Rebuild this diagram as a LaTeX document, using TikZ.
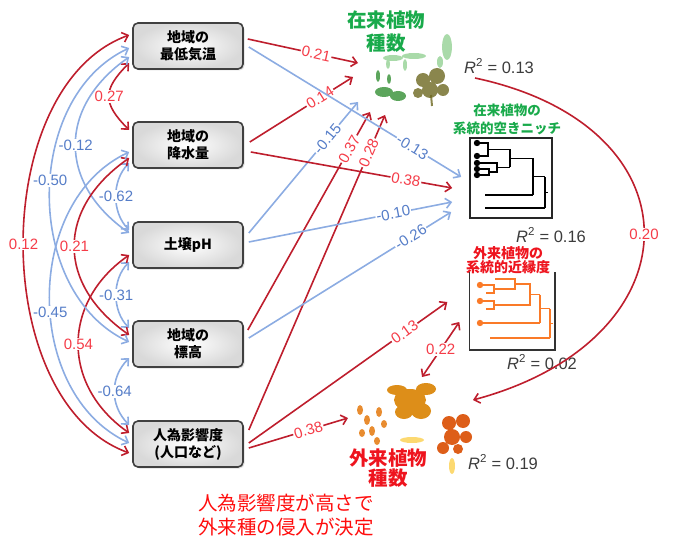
\documentclass[tikz,border=0pt]{standalone}
\usepackage{fontspec}
\setmainfont{Liberation Sans}
\newfontfamily\jp{Noto Sans CJK JP}
\usetikzlibrary{arrows.meta,positioning,shadows}

\definecolor{posline}{RGB}{190,30,45}
\definecolor{negline}{RGB}{140,172,226}
\definecolor{postext}{RGB}{245,60,72}
\definecolor{negtext}{RGB}{85,125,200}
\definecolor{natgreen}{RGB}{25,170,75}
\definecolor{alienred}{RGB}{238,20,30}
\definecolor{rtext}{RGB}{60,60,60}
\definecolor{phyorange}{RGB}{250,122,40}

\tikzset{
  varbox/.style={rounded corners=5pt, draw=black!75, line width=1.6pt,
    inner color=white, outer color=black!15, minimum width=110pt, minimum height=46pt,
    align=center, font=\jp\bfseries\fontsize{14}{17}\selectfont,
    drop shadow={opacity=.25, shadow xshift=1.5pt, shadow yshift=-1.5pt}},
  tip/.style={-{Straight Barb[length=5.5pt,width=10pt]}},
  posarr/.style={draw=posline, line width=1.6pt, tip},
  negarr/.style={draw=negline, line width=1.6pt, tip},
  poscov/.style={posarr, {Straight Barb[length=5.5pt,width=10pt]}-{Straight Barb[length=5.5pt,width=10pt]}},
  negcov/.style={negarr, {Straight Barb[length=5.5pt,width=10pt]}-{Straight Barb[length=5.5pt,width=10pt]}},
  plab/.style={text=postext, fill=white, inner sep=1pt, font=\fontsize{15}{15}\selectfont},
  nlab/.style={text=negtext, fill=white, inner sep=1pt, font=\fontsize{15}{15}\selectfont},
  rsq/.style={text=rtext, font=\fontsize{16.5}{17}\selectfont},
  dendro/.style={line width=1.3pt},
}

\begin{document}
\begin{tikzpicture}[x=1pt,y=1pt]
  \useasboundingbox (0,0) rectangle (680,-548);

  % native plants
  \begin{scope}[opacity=.8]
    \fill[green!40!gray!60!white] (393,-58) ellipse (10 and 3) (414,-56) ellipse (12 and 3)
      (388,-64) ellipse (2 and 5) (405,-65) ellipse (2 and 6) (447,-47) ellipse (5 and 13)
      (440,-62) ellipse (3 and 6);
    \fill[olive!70!black] (423,-80) circle (7) (437,-76) circle (8) (430,-90) circle (8)
      (418,-93) circle (5) (443,-90) circle (6);
    \draw[olive!70!black, line width=2pt] (431,-95) -- (432,-106);
    \fill[green!45!black!80] (384,-92) ellipse (9 and 5) (398,-96) ellipse (8 and 5)
      (378,-76) ellipse (2 and 6) (389,-79) ellipse (2 and 5);
  \end{scope}

  % alien plants
  \begin{scope}[opacity=.9]
    \fill[orange!80!yellow!85!black] (410,-400) ellipse (16 and 11)
      (397,-390) ellipse (10 and 5) (426,-389) ellipse (10 and 6)
      (421,-411) ellipse (10 and 8) (404,-412) ellipse (9 and 7);
    \fill[orange!70!red!85!black] (449,-423) circle (7) (463,-421) circle (7) (452,-437) circle (8)
      (466,-437) circle (6) (443,-448) circle (6) (458,-449) circle (5);
    \fill[orange!60!brown] (360,-410) ellipse (3 and 5) (367,-420) ellipse (3 and 5)
      (372,-431) ellipse (3 and 5) (362,-433) ellipse (3 and 4) (379,-412) ellipse (3 and 5)
      (384,-424) ellipse (3 and 4) (377,-441) ellipse (3 and 4);
    \fill[yellow!50!orange!60!white] (412,-440) ellipse (12 and 3) (452,-466) ellipse (3 and 8);
  \end{scope}

  % predictor boxes
  \node (temp) [varbox] at (188,-46) {地域の\\最低気温};
  \node (prec) [varbox] at (188,-145) {地域の\\降水量};
  \node (soil) [varbox] at (188,-245) {土壌pH};
  \node (elev) [varbox] at (188,-344) {地域の\\標高};
  \node (human) [varbox] at (188,-444) {人為影響度\\(人口など)};

  % response side
  \node (nattitle) [align=center, text=natgreen, font=\jp\bfseries\fontsize{19.5}{23}\selectfont] at (386,-32) {在来植物\\種数};
  \node (r2nat) [rsq] at (499,-66) {\textit{R}\textsuperscript{2} = 0.13};
  \node (gaptitle) [align=center, text=natgreen, font=\jp\bfseries\fontsize{13.5}{18}\selectfont] at (507,-119) {在来植物の\\系統的空きニッチ};
  \node (gap) [draw=black!85, line width=1.6pt, minimum width=82pt, minimum height=80pt] at (511,-178) {};
  \node (r2gap) [rsq] at (551,-235) {\textit{R}\textsuperscript{2} = 0.16};
  \node (phytitle) [align=center, text=alienred, font=\jp\bfseries\fontsize{14}{14.5}\selectfont] at (508,-260) {外来植物の\\系統的近縁度};
  \node (phy) [minimum width=85pt, minimum height=78pt] at (512,-311) {};
  \draw[black!80, line width=1.6pt] (phy.north west) -- (phy.south west) -- (phy.south east) -- (phy.north east);
  \node (r2phy) [rsq] at (542,-362) {\textit{R}\textsuperscript{2} = 0.02};
  \node (alientitle) [align=center, text=alienred, font=\jp\bfseries\fontsize{19.5}{20}\selectfont] at (388,-468) {外来植物\\種数};
  \node (r2alien) [rsq] at (503,-462) {\textit{R}\textsuperscript{2} = 0.19};
  \node (note) [align=center, text=red!95!white, font=\jp\fontsize{19.5}{24}\selectfont] at (286,-515) {人為影響度が高さで\\外来種の侵入が決定};

  % niche tree
  \draw[dendro] (477,-143) -- (488,-143) -- (488,-156) -- (477,-156)
    (488,-149.5) -- (510,-149.5)
    (477,-163) -- (497,-163) -- (497,-172) -- (489,-172)
    (477,-169) -- (489,-169) -- (489,-175) -- (477,-175)
    (497,-167.5) -- (510,-167.5) (510,-149.5) -- (510,-167.5)
    (510,-158.5) -- (533,-158.5) (485,-195) -- (533,-195) (533,-158.5) -- (533,-195)
    (533,-176.8) -- (545,-176.8) (485,-208) -- (545,-208) (545,-176.8) -- (545,-208)
    (545,-192.4) -- (548,-192.4);
  \foreach \y in {143,156,163,169,175}
    \fill (477,-\y) circle (3.2);

  % alien tree
  \draw[dendro, phyorange] (480,-285) -- (494,-285) -- (494,-293) -- (486,-293)
    (495,-279) -- (515,-279) -- (515,-289) -- (494,-289)
    (480,-301) -- (494,-301) -- (494,-309) -- (486,-309)
    (515,-284) -- (530,-284) -- (530,-305) -- (494,-305)
    (530,-294.5) -- (540,-294.5) (480,-323) -- (540,-323) (540,-294.5) -- (540,-323)
    (540,-308.8) -- (550,-308.8) (490,-338) -- (550,-338) (550,-308.8) -- (550,-338)
    (550,-323.4) -- (553,-323.4);
  \foreach \y in {285,301,323}
    \fill[phyorange] (480,-\y) circle (3.2);

  % arrow ends near the plants
  \coordinate (nat1) at (358,-63);
  \coordinate (nat2) at (353,-77);
  \coordinate (nat3) at (358,-102);
  \coordinate (nat4) at (370,-112);
  \coordinate (nat5) at (385,-115);
  \coordinate (natout) at (475,-78);
  \coordinate (ali1) at (348,-418);
  \coordinate (ali2) at (422,-377);
  \coordinate (ali3) at (473,-400);

  % covariances between predictors
  \draw[poscov] ([xshift=-3pt,yshift=-17pt]temp.west) to[out=225,in=135,looseness=1.45] node[plab]{0.27} ([xshift=-3pt,yshift=15pt]prec.west);
  \draw[negcov] ([xshift=-3pt,yshift=-18pt]prec.west) to[out=225,in=135,looseness=.95] node[nlab]{-0.62} ([xshift=-3pt,yshift=15pt]soil.west);
  \draw[negcov] ([xshift=-3pt,yshift=-17pt]soil.west) to[out=225,in=135,looseness=.95] node[nlab]{-0.31} ([xshift=-3pt,yshift=16pt]elev.west);
  \draw[negcov] ([xshift=-3pt,yshift=-14pt]elev.west) to[out=225,in=135,looseness=1.05] node[nlab]{-0.64} ([xshift=-3pt,yshift=19pt]human.west);
  \draw[negcov] ([xshift=-3pt,yshift=-11pt]temp.west) to[out=215,in=145,looseness=1.27] node[nlab]{-0.12} ([xshift=-3pt,yshift=12pt]soil.west);
  \draw[poscov] ([xshift=-3pt,yshift=-13pt]prec.west) to[out=215,in=145,looseness=1.29] node[plab]{0.21} ([xshift=-3pt,yshift=9pt]elev.west);
  \draw[poscov] ([xshift=-3pt,yshift=-10pt]soil.west) to[out=215,in=145,looseness=1.19] node[plab]{0.54} ([xshift=-3pt,yshift=11pt]human.west);
  \draw[negcov] ([xshift=-3pt,yshift=-2pt]temp.west) to[out=205,in=155,looseness=1.02] node[nlab,pos=.46]{-0.50} ([xshift=-3pt,yshift=2pt]elev.west);
  \draw[negcov] ([xshift=-3pt,yshift=-7pt]prec.west) to[out=205,in=155,looseness=1.03] node[nlab,pos=.54]{-0.45} ([xshift=-3pt,yshift=1pt]human.west);
  \draw[poscov] ([xshift=-3pt,yshift=11pt]temp.west) to[out=200,in=160,looseness=.92] node[plab]{0.12} ([xshift=-3pt,yshift=-9pt]human.west);

  % paths to native species
  \draw[posarr] ([xshift=4pt,yshift=7pt]temp.east) -- node[plab,sloped,pos=.62]{0.21} (nat1);
  \draw[posarr] ([xshift=6pt,yshift=3pt]prec.east) -- node[plab,sloped,pos=.68]{0.14} (nat2);
  \draw[negarr] ([xshift=5pt,yshift=12pt]soil.east) -- node[nlab,sloped,pos=.72]{-0.15} (nat3);
  \draw[posarr] ([xshift=4pt,yshift=14pt]elev.east) -- node[plab,sloped,pos=.83]{0.37} (nat4);
  \draw[posarr] ([xshift=5pt,yshift=14pt]human.east) -- node[plab,sloped,pos=.88]{0.28} (nat5);

  % paths to the niche gap
  \draw[negarr] ([xshift=5pt,yshift=-1pt]temp.east) -- node[nlab,sloped,pos=.77]{-0.13} ([xshift=-8pt,yshift=1pt]gap.west);
  \draw[posarr] ([xshift=7pt,yshift=-7pt]prec.east) -- node[plab,sloped,pos=.77]{0.38} ([xshift=-17pt,yshift=-10pt]gap.west);
  \draw[negarr] ([xshift=5pt,yshift=3pt]soil.east) -- node[nlab,sloped,pos=.71]{-0.10} ([xshift=-17pt,yshift=-24pt]gap.west);
  \draw[negarr] ([xshift=5pt,yshift=6pt]elev.east) -- node[nlab,sloped,pos=.8]{-0.26} ([xshift=-18pt,yshift=-34pt]gap.west);

  % paths to alien side
  \draw[posarr] ([xshift=5pt,yshift=1pt]human.east) -- node[plab,sloped,pos=.785]{0.13} ([xshift=-22pt,yshift=9pt]phy.west);
  \draw[posarr] ([xshift=5pt,yshift=-4pt]human.east) -- node[plab,sloped,pos=.6]{0.38} (ali1);
  \draw[poscov] (ali2) -- node[plab]{0.22} ([xshift=-10pt,yshift=-11pt]phy.west);
  \draw[posarr] (natout) to[out=-12,in=15,looseness=1.85] node[plab]{0.20} (ali3);
\end{tikzpicture}
\end{document}
